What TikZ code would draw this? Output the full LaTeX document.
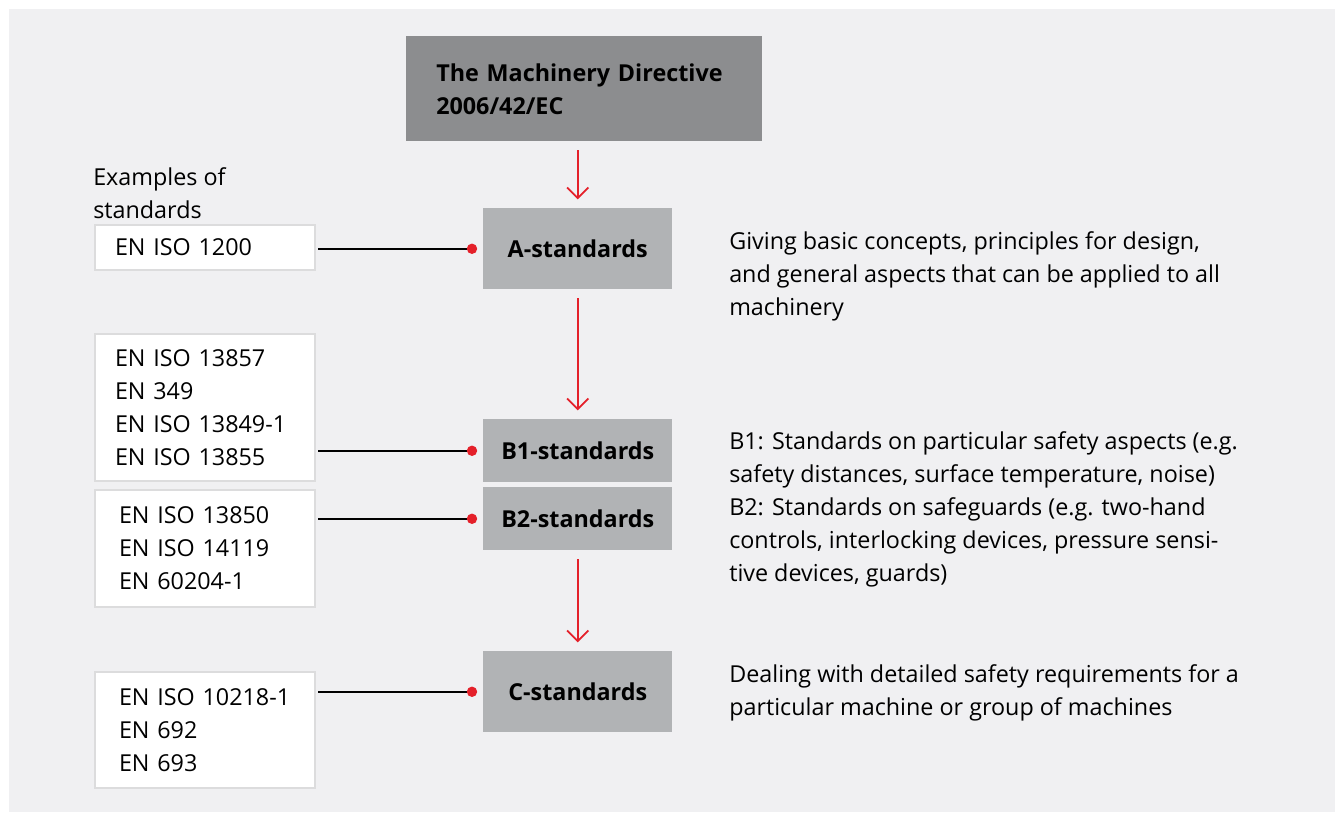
\documentclass[tikz,border=0pt]{standalone}
\usepackage{fontspec}
\setmainfont{Open Sans}
\usepackage{tikz}
\usetikzlibrary{arrows.meta}
\definecolor{panelgray}{HTML}{F0F0F2}
\definecolor{dirgray}{HTML}{8C8D8F}
\definecolor{stdgray}{HTML}{B1B3B5}
\definecolor{boxline}{HTML}{DCDCDD}
\definecolor{abbred}{HTML}{E4202A}
\newcommand{\txtfont}{\fontsize{17.5}{24.75}\selectfont}

\begin{document}
\begin{tikzpicture}[x=0.75pt,y=-0.75pt,
    stdbox/.style={fill=stdgray, anchor=north west, inner sep=0pt,
        minimum width=141.75pt, font=\txtfont\bfseries},
    exbox/.style={fill=white, draw=boxline, line width=1.5pt, anchor=north west,
        inner ysep=0pt, align=left, font=\txtfont},
    txt/.style={anchor=west, inner sep=0pt, align=left, font=\txtfont},
    flow/.style={abbred, line width=1.3pt, -{Straight Barb[length=8pt,width=16pt]},
        shorten <=6.5pt, shorten >=6.5pt},
    link/.style={line width=1.4pt}]
    % background
    \useasboundingbox (0,0) rectangle (1335,814);
    \fill[panelgray] (9,9) rectangle (1335,812);
    % directive and standards
    \node[fill=dirgray, anchor=north west, minimum width=267pt, minimum height=78.75pt,
        inner xsep=22.5pt, text width=222pt, align=left, font=\txtfont\bfseries]
        (dir) at (406,36) {The Machinery Directive\\2006/42/EC};
    \node[stdbox, minimum height=60.75pt] (A) at (483,208) {A-standards};
    \node[stdbox, minimum height=47.25pt] (B1) at (483,419) {B1-standards};
    \node[stdbox, minimum height=47.25pt] (B2) at (483,487) {B2-standards};
    \node[stdbox, minimum height=60.75pt] (C) at (483,651) {C-standards};
    \draw[flow] (A.north |- dir.south) -- (A.north);
    \draw[flow] (A.south) -- (B1.north);
    \draw[flow] (B2.south) -- (C.north);
    % examples
    \node[txt] (exhead) at (93,193.5) {Examples of\\standards};
    \node[exbox, minimum height=33.75pt, inner xsep=15pt, text width=135pt]
        (exA) at (94,224) {EN ISO 1200};
    \node[exbox, minimum height=110.25pt, inner xsep=15pt, text width=135pt]
        (exB1) at (94,333) {EN ISO 13857\\EN 349\\EN ISO 13849-1\\EN ISO 13855};
    \node[exbox, minimum height=87.75pt, inner xsep=18pt, text width=129pt]
        (exB2) at (94,489) {EN ISO 13850\\EN ISO 14119\\EN 60204-1};
    \node[exbox, minimum height=87pt, inner xsep=18pt, text width=129pt]
        (exC) at (94,671) {EN ISO 10218-1\\EN 692\\EN 693};
    \foreach \s in {A,B1,B2,C}{
        \coordinate (d\s) at ([xshift=-8.25pt]\s.west);
        \draw[link] ([xshift=1.5pt]ex\s.east |- d\s) -- (d\s);
        \fill[abbred] (d\s) circle (3.9pt);
    }
    % descriptions
    \node[txt] (descA) at (729,276.5) {Giving basic concepts, principles for design,\\
        and general aspects that can be applied to all\\machinery};
    \node[txt] (descB) at (729,509) {B1: Standards on particular safety aspects (e.g.\\
        safety distances, surface temperature, noise)\\
        B2: Standards on safeguards (e.g. two-hand\\
        controls, interlocking devices, pressure sensi-\\tive devices, guards)};
    \node[txt] (descC) at (729,692.5) {Dealing with detailed safety requirements for a\\
        particular machine or group of machines};
\end{tikzpicture}
\end{document}
